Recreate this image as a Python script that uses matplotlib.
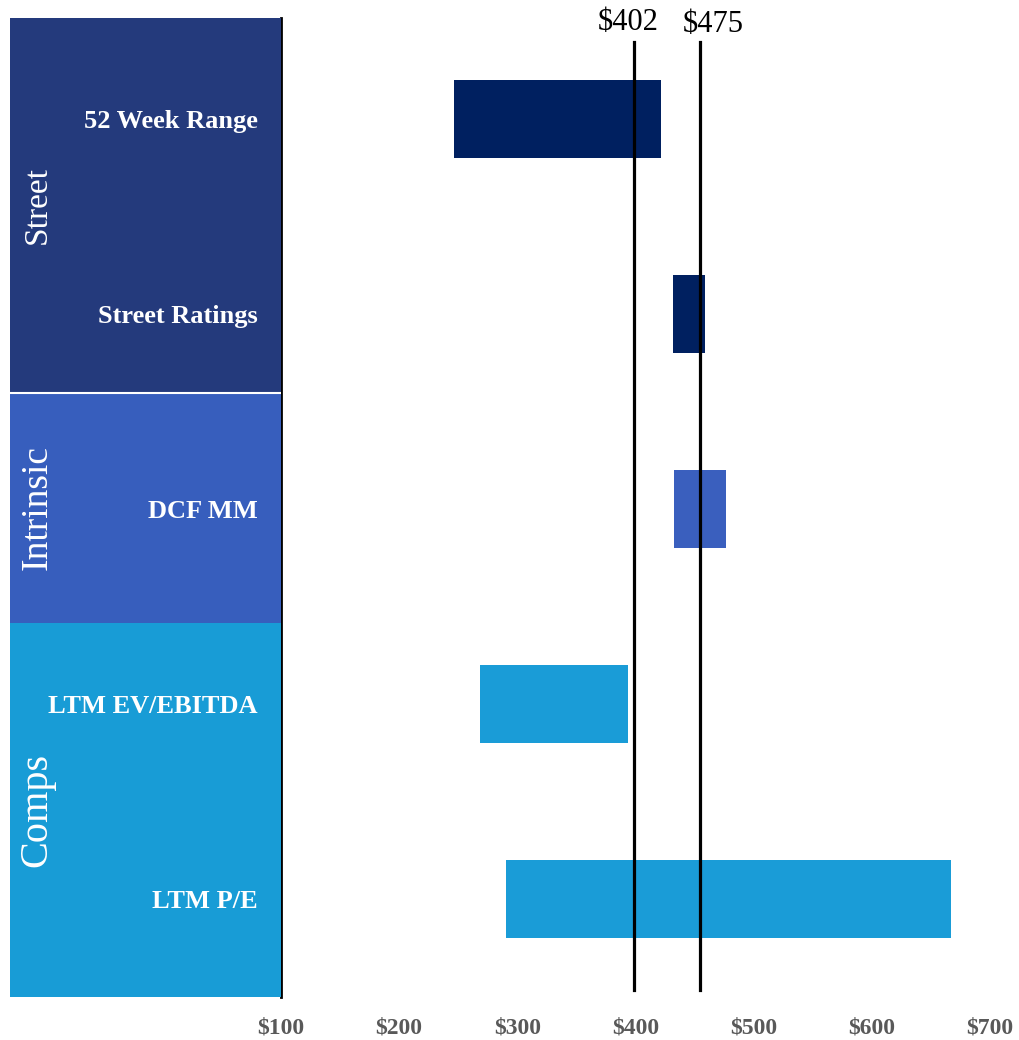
import matplotlib
matplotlib.use("Agg")
import matplotlib.pyplot as plt

# football field valuation chart

categories = ["52 Week Range", "Street Ratings", "DCF MM", "LTM EV/EBITDA", "LTM P/E"]
lows = [246, 432, 433, 268, 290]
highs = [422, 459, 477, 394, 667]
bar_groups = ["Street", "Street", "Intrinsic", "Comps", "Comps"]

groups = ["Street", "Intrinsic", "Comps"]
ref_values = [399, 455]
ref_labels = ["$402", "$475"]
ticks = [100, 200, 300, 400, 500, 600, 700]
tick_labels = ["$100", "$200", "$300", "$400", "$500", "$600", "$700"]

navy = "#002060"
block_colors = {"Street": "#243a7c", "Intrinsic": "#375ebd", "Comps": "#189cd6"}
bar_colors = {"Street": navy, "Intrinsic": "#3a5fbe", "Comps": "#1a9cd7"}
# block edges in row units
group_edges = [-0.518, 1.406, 2.586, 4.505]
group_sizes = {"Street": 24, "Intrinsic": 27, "Comps": 29}

serif = ["Liberation Serif", "DejaVu Serif"]

W, H = 1020, 1040
fig = plt.figure(figsize=(W / 100, H / 100), dpi=100)
ax = fig.add_axes([281 / W, 1 - 997 / H, (990 - 281) / W, (997 - 18) / H])
side = fig.add_axes([10 / W, 1 - 997 / H, (281 - 10) / W, (997 - 18) / H], sharey=ax)

rows = list(range(len(categories)))
ax.barh(rows, [h - l for l, h in zip(lows, highs)], left=lows, height=0.4,
        color=[bar_colors[g] for g in bar_groups], zorder=2)

for v, lab, dx, dy in zip(ref_values, ref_labels, [-4.5, 9], [-3, -5]):
    ax.axvline(v, ymin=0.007, ymax=0.975, color="black", lw=2.3, zorder=3)
    ax.annotate(lab, xy=(v, 1.0), xycoords=("data", "axes fraction"),
                xytext=(dx, dy), textcoords="offset points", ha="center", va="center",
                fontsize=22, family=serif, color="black")

ax.set_xlim(100, 700)
ax.set_ylim(group_edges[-1], group_edges[0])
ax.set_xticks(ticks)
ax.set_xticklabels(tick_labels, fontsize=17, family=serif, fontweight="bold", color="#595959")
ax.tick_params(axis="x", length=0, pad=15)
ax.tick_params(axis="y", left=False, labelleft=False)
for s in ["top", "right", "bottom"]:
    ax.spines[s].set_visible(False)
ax.spines["left"].set_linewidth(2)

# left panel with group blocks and row labels
side.set_xlim(0, 1)
for i, g in enumerate(groups):
    side.axhspan(group_edges[i], group_edges[i + 1], color=block_colors[g], lw=0)
    mid = (group_edges[i] + group_edges[i + 1]) / 2
    side.text(0.1, mid, g, rotation=90, ha="center", va="center", color="white",
              fontsize=group_sizes[g], family=serif)
side.axhline(group_edges[1], color="white", lw=1.5)
for r, c in zip(rows, categories):
    side.annotate(c, xy=(0.915, r), xytext=(0, -2), textcoords="offset points",
                  ha="right", va="center", color="white", fontsize=19,
                  family=serif, fontweight="bold")
side.axis("off")

fig.savefig("out.png", dpi=100)
